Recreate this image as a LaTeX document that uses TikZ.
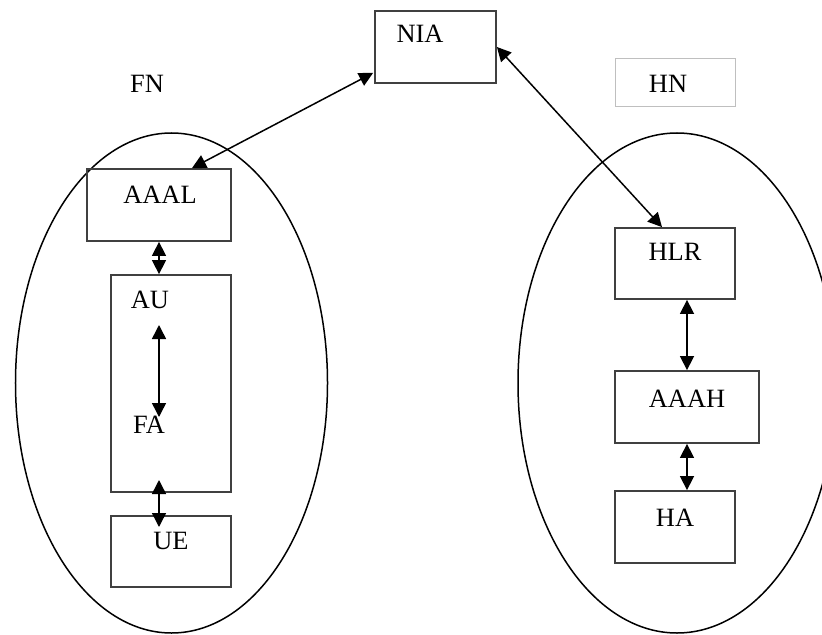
\documentclass[tikz,border=0pt]{standalone}
\usepackage{fontspec}
\setmainfont{Liberation Serif}
\usetikzlibrary{shapes.geometric,arrows.meta,calc}
\begin{document}
\begin{tikzpicture}[x=1bp,y=-1bp,
  box/.style={draw=black!75,line width=1.8bp,rectangle,inner sep=0pt},
  hnbox/.style={draw=black!25,line width=1bp,rectangle,inner sep=0pt},
  oval/.style={draw=black,line width=1.5bp,ellipse,inner sep=0pt},
  lbl/.style={anchor=base,inner sep=0pt,font=\fontsize{26.5}{30}\selectfont},
  link/.style={line width=1.5bp,{Triangle[length=14bp,width=14bp]}-{Triangle[length=14bp,width=14bp]}}]
\useasboundingbox (0,0) rectangle (822,635);
\clip (0,0) rectangle (822,635);
% ellipses
\node[oval,minimum width=312bp,minimum height=500bp] (fnoval) at (171.5,383) {};
\node[oval,minimum width=318bp,minimum height=500bp] (hnoval) at (677,383) {};
% boxes
\node[box,minimum width=121bp,minimum height=72bp] (NIA) at (435.5,47) {};
\node[hnbox,minimum width=120bp,minimum height=48bp] (HNb) at (675,83) {};
\node[box,minimum width=144bp,minimum height=72bp] (AAAL) at (159,205) {};
\node[box,minimum width=120bp,minimum height=217bp] (AUFA) at (171,383.5) {};
\node[box,minimum width=120bp,minimum height=71bp] (UE) at (171,551.5) {};
\node[box,minimum width=120bp,minimum height=71bp] (HLR) at (675,263.5) {};
\node[box,minimum width=144bp,minimum height=72bp] (AAAH) at (687,407) {};
\node[box,minimum width=120bp,minimum height=72bp] (HA) at (675,527) {};
% labels
\node[lbl] (tNIA) at (420,43) {NIA};
\node[lbl] (tFN) at (147,93) {FN};
\node[lbl] (tHN) at (668,93) {HN};
\node[lbl] (tAAAL) at (160,204) {AAAL};
\node[lbl] (tAU) at (150,308) {AU};
\node[lbl] (tFA) at (149,433) {FA};
\node[lbl] (tUE) at (171,549) {UE};
\node[lbl] (tHLR) at (675,260) {HLR};
\node[lbl] (tAAAH) at (687,407) {AAAH};
\node[lbl] (tHA) at (675,526) {HA};
% connector end points
\coordinate (auA) at (159,325);
\coordinate (faA) at (159,417);
\coordinate (faB) at (159,480);
\coordinate (ueB) at (159,527);
% connectors
\draw[link] ($(NIA.south west)+(-1,-11)$) -- ($(AAAL.north)+(33,0)$);
\draw[link] (NIA.east) -- ($(HLR.north)+(-13,0)$);
\draw[link] (AAAL.south) -- (AAAL.south |- AUFA.north);
\draw[link] (auA) -- (faA);
\draw[link] (faB) -- (ueB);
\draw[link] (AAAH.north |- HLR.south) -- (AAAH.north);
\draw[link] (AAAH.south) -- (AAAH.south |- HA.north);
\end{tikzpicture}
\end{document}
